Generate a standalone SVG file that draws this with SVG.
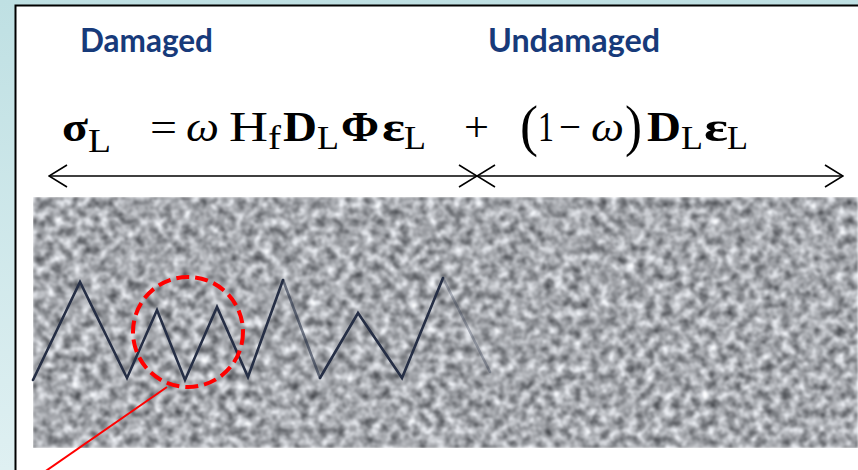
<svg xmlns="http://www.w3.org/2000/svg" width="858" height="470" viewBox="0 0 858 470">
  <style>
    .lbl { font-family: Lato, "Open Sans", "Liberation Sans", sans-serif; font-weight: 700; font-size: 32px; fill: #173a7a; }
    .eq { font-family: "Liberation Serif", "Times New Roman", serif; font-size: 42px; fill: #000; }
    .sub { font-family: "Liberation Serif", "Times New Roman", serif; font-size: 33px; fill: #000; }
    .par { font-family: "Liberation Serif", "Times New Roman", serif; font-size: 58px; fill: #000; }
    .b { font-weight: 700; }
    .i { font-style: italic; }
    .arrow { fill: none; stroke: #000; stroke-width: 1.6; }
    .crack { fill: none; stroke: #252e45; stroke-width: 2.6; stroke-linejoin: miter; stroke-linecap: round; }
  </style>
  <defs>
    <linearGradient id="bg" x1="0" y1="0" x2="0" y2="1">
      <stop offset="0" stop-color="#bfe0e3"/>
      <stop offset="1" stop-color="#dff0f2"/>
    </linearGradient>
    <filter id="granite" x="0" y="0" width="100%" height="100%" color-interpolation-filters="sRGB">
      <feTurbulence type="fractalNoise" baseFrequency="0.11" numOctaves="3" seed="7" result="n"/>
      <feColorMatrix in="n" type="matrix" values="1.0 0 0 0 0.15  1.0 0 0 0 0.16  1.0 0 0 0 0.18  0 0 0 0 1" result="g"/>
      <feGaussianBlur in="g" stdDeviation="1.1"/>
    </filter>
    <marker id="open" viewBox="0 0 20 24" refX="19" refY="12" markerWidth="20" markerHeight="24" markerUnits="userSpaceOnUse" orient="auto-start-reverse">
      <path d="M1,1 L19,12 L1,23" fill="none" stroke="#000" stroke-width="1.6"/>
    </marker>
  </defs>

  <rect x="0" y="0" width="858" height="470" fill="url(#bg)"/>
  <rect x="15" y="5" width="843" height="465" fill="#ffffff"/>
  <path d="M15.5,470 V5.5 H858" fill="none" stroke="#000" stroke-width="2"/>

  <g id="label-damaged">
    <text class="lbl" x="80" y="52" textLength="133" lengthAdjust="spacingAndGlyphs">Damaged</text>
  </g>
  <g id="label-undamaged">
    <text class="lbl" x="488" y="52" textLength="172" lengthAdjust="spacingAndGlyphs">Undamaged</text>
  </g>

  <g id="equation">
    <text class="eq b" x="62" y="141" textLength="26" lengthAdjust="spacingAndGlyphs">σ</text>
    <text class="sub" x="88" y="152" textLength="23" lengthAdjust="spacingAndGlyphs">L</text>
    <text class="eq" x="150" y="141" textLength="27" lengthAdjust="spacingAndGlyphs">=</text>
    <text class="eq i" x="186" y="141" textLength="33" lengthAdjust="spacingAndGlyphs">ω</text>
    <text class="eq" x="229" y="141" textLength="39" lengthAdjust="spacingAndGlyphs">H</text>
    <text class="sub" x="268" y="149" textLength="13" lengthAdjust="spacingAndGlyphs">f</text>
    <text class="eq b" x="283" y="141" textLength="34" lengthAdjust="spacingAndGlyphs">D</text>
    <text class="sub" x="317" y="149" textLength="22" lengthAdjust="spacingAndGlyphs">L</text>
    <text class="eq b" x="341" y="141" textLength="38" lengthAdjust="spacingAndGlyphs">Φ</text>
    <text class="eq b" x="382" y="141" textLength="23" lengthAdjust="spacingAndGlyphs">ε</text>
    <text class="sub" x="404" y="149" textLength="22" lengthAdjust="spacingAndGlyphs">L</text>
    <text class="eq" x="464" y="141" textLength="25" lengthAdjust="spacingAndGlyphs">+</text>
    <text class="par" x="520" y="145" textLength="18" lengthAdjust="spacingAndGlyphs">(</text>
    <text class="eq" x="538" y="141" textLength="16" lengthAdjust="spacingAndGlyphs">1</text>
    <text class="eq" x="559" y="141" textLength="22" lengthAdjust="spacingAndGlyphs">−</text>
    <text class="eq i" x="591" y="141" textLength="33" lengthAdjust="spacingAndGlyphs">ω</text>
    <text class="par" x="625" y="145" textLength="17" lengthAdjust="spacingAndGlyphs">)</text>
    <text class="eq b" x="647" y="141" textLength="34" lengthAdjust="spacingAndGlyphs">D</text>
    <text class="sub" x="681" y="149" textLength="22" lengthAdjust="spacingAndGlyphs">L</text>
    <text class="eq b" x="704" y="141" textLength="24" lengthAdjust="spacingAndGlyphs">ε</text>
    <text class="sub" x="727" y="149" textLength="21" lengthAdjust="spacingAndGlyphs">L</text>
  </g>

  <g id="connectors">
    <line class="arrow" x1="49" y1="176" x2="477" y2="176" marker-start="url(#open)" marker-end="url(#open)"/>
    <line class="arrow" x1="477" y1="176" x2="843" y2="176" marker-start="url(#open)" marker-end="url(#open)"/>
  </g>

  <g id="specimen">
    <rect x="33" y="197" width="825" height="251" filter="url(#granite)"/>
  </g>

  <g id="crack">
    <path class="crack" d="M33,380 L80,282 L127,378 L157,310 L185,380 L217,307 L248,377 L283,280"/>
    <path class="crack" d="M283,280 L320,378" stroke-width="1.8" opacity="0.6"/>
    <path class="crack" d="M320,378 L358,313 L402,378 L443,278"/>
    <path class="crack" d="M443,278 L490,372" stroke-width="1.6" opacity="0.3"/>
  </g>

  <g id="highlight">
    <circle cx="188" cy="332" r="55" fill="none" stroke="#ff0000" stroke-width="4" stroke-dasharray="13 6"/>
    <line x1="167" y1="387" x2="40" y2="475" stroke="#ff0000" stroke-width="2"/>
  </g>
</svg>
